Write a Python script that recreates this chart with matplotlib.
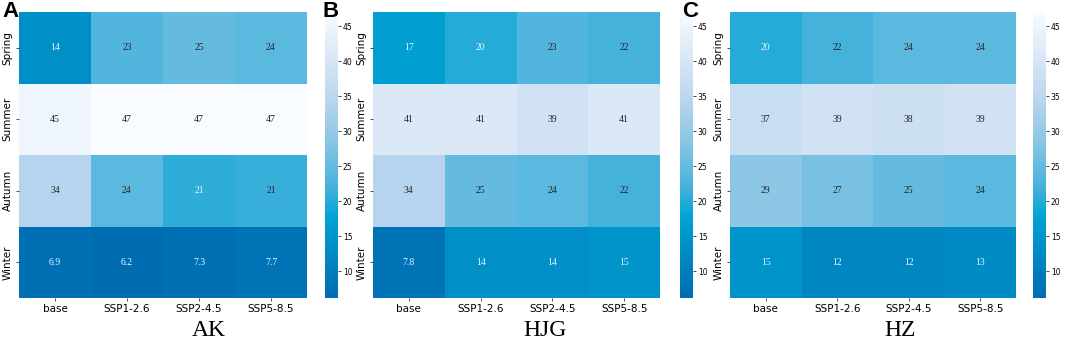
import numpy as np
import matplotlib
matplotlib.use("Agg")
import matplotlib.pyplot as plt
from matplotlib.colors import LinearSegmentedColormap, Normalize

# data
seasons = ["Spring", "Summer", "Autumn", "Winter"]
scenarios = ["base", "SSP1-2.6", "SSP2-4.5", "SSP5-8.5"]
sites = ["AK", "HJG", "HZ"]
panel_letters = ["A", "B", "C"]

ak = [[14, 23, 25, 24],
      [45, 47, 47, 47],
      [34, 24, 20.6, 21.3],
      [6.9, 6.2, 7.3, 7.7]]
hjg = [[17, 20, 23, 22],
       [41, 41, 39, 41],
       [34, 25, 24, 22],
       [7.8, 14, 14, 15]]
hz = [[20, 22, 24, 24],
      [37, 39, 38, 39],
      [29, 27, 25, 24],
      [15, 12, 12, 13]]
cbar_ticks = [10, 15, 20, 25, 30, 35, 40, 45]

W, H = 1065, 355
vmin, vmax = 6.2, 47

cmap = LinearSegmentedColormap.from_list("blues", [
    (0.0, "#006cb2"), (0.2, "#0092c8"), (0.28, "#00a2d4"),
    (0.4, "#4cb4dc"), (0.55, "#8ac6e4"), (0.7, "#bcd6ee"),
    (0.85, "#dae8f6"), (1.0, "#f8fbff")])
norm = Normalize(vmin, vmax)

fig = plt.figure(figsize=(W / 100, H / 100), dpi=100)

heat_left = [19, 373, 730]
heat_width = [288, 287, 286]
cbar_left = [325, 680, 1033]
title_x = [209, 545, 900]
letter_x = [2, 322, 682]
top, bottom = 12, 298


def fx(px):
    return px / W


def fy(py):
    return 1 - py / H


for k, vals in enumerate([ak, hjg, hz]):
    data = np.array(vals, dtype=float)
    ax = fig.add_axes([fx(heat_left[k]), fy(bottom), heat_width[k] / W, (bottom - top) / H])
    ax.pcolormesh(data, cmap=cmap, norm=norm)
    ax.set_xlim(0, 4)
    ax.set_ylim(4, 0)
    for i in range(4):
        for j in range(4):
            v = data[i, j]
            col = "#e4f6ff" if v < 21 else "#262626"
            ax.text(j + 0.5, i + 0.5, f"{v:.2g}", ha="center", va="center",
                    fontsize=7, family="Liberation Serif", color=col)
    ax.set_xticks(np.arange(4) + 0.5)
    ax.set_xticklabels(scenarios, fontsize=7.5)
    ax.set_yticks(np.arange(4) + 0.5)
    ax.set_yticklabels(seasons, fontsize=7.5, rotation=90, va="center")
    ax.tick_params(length=2.5, width=0.6, pad=2, color="#333333")
    for s in ax.spines.values():
        s.set_visible(False)

    cax = fig.add_axes([fx(cbar_left[k]), fy(bottom), 13 / W, (bottom - top) / H])
    cb = fig.colorbar(plt.cm.ScalarMappable(norm=norm, cmap=cmap), cax=cax)
    cb.set_ticks(cbar_ticks)
    cb.ax.tick_params(labelsize=5.5, length=2, width=0.5, pad=1.5)
    cb.outline.set_visible(False)

    fig.text(fx(title_x[k]), fy(330), sites[k], ha="center", va="center",
             fontsize=17, family="Liberation Serif")
    fig.text(fx(letter_x[k]), fy(1), panel_letters[k], ha="left", va="top",
             fontsize=16, fontweight="bold", family="Liberation Sans")

fig.savefig("out.png", dpi=100)
